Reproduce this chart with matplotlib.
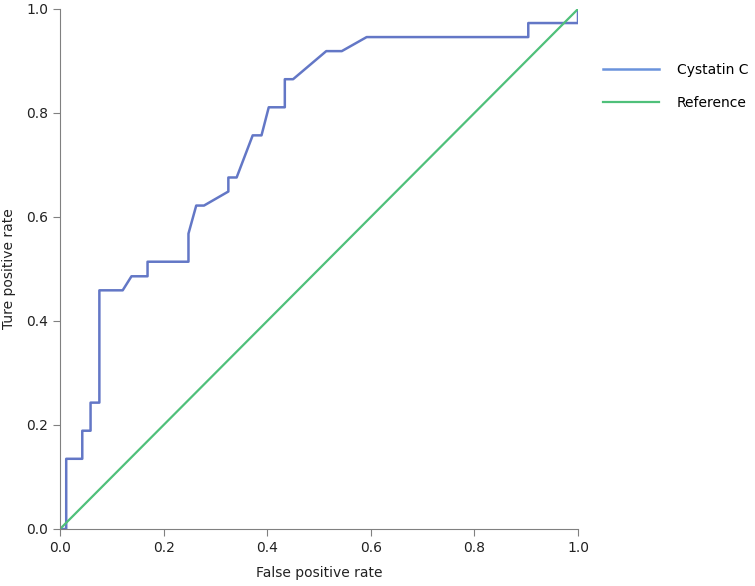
import matplotlib
matplotlib.use("Agg")
import matplotlib.pyplot as plt

# ROC points
fpr = [0.0, 0.012, 0.012, 0.043, 0.043, 0.059, 0.059, 0.076, 0.076, 0.121, 0.138, 0.169,
       0.169, 0.248, 0.248, 0.263, 0.278, 0.325, 0.325, 0.341, 0.372, 0.389, 0.403, 0.434,
       0.434, 0.450, 0.514, 0.544, 0.592, 0.904, 0.904, 1.0, 1.0]
tpr = [0.0, 0.0, 0.135, 0.135, 0.189, 0.189, 0.243, 0.243, 0.459, 0.459, 0.486, 0.486,
       0.514, 0.514, 0.568, 0.622, 0.622, 0.649, 0.676, 0.676, 0.757, 0.757, 0.811, 0.811,
       0.865, 0.865, 0.919, 0.919, 0.946, 0.946, 0.973, 0.973, 1.0]
ref_x = [0.0, 1.0]
ref_y = [0.0, 1.0]
ticks = [0.0, 0.2, 0.4, 0.6, 0.8, 1.0]

plt.rcParams['font.family'] = ['DejaVu Sans']
fig = plt.figure(figsize=(7.55, 5.86), dpi=100)
ax = fig.add_axes([60/755, 57/586, 518/755, 520/586])

ax.plot(fpr, tpr, color='#6377c6', lw=1.8, label='Cystatin C')
ax.plot(ref_x, ref_y, color='#4fc07a', lw=1.6, label='Reference')

ax.set_xlim(0, 1)
ax.set_ylim(0, 1)
ax.set_xticks(ticks)
ax.set_yticks(ticks)
ax.set_xticklabels([f"{t:.1f}" for t in ticks])
ax.set_yticklabels([f"{t:.1f}" for t in ticks])
for s in ['top', 'right']:
    ax.spines[s].set_visible(False)
for s in ['left', 'bottom']:
    ax.spines[s].set_color('#808080')
ax.tick_params(colors='#808080', labelcolor='#222222', labelsize=10, length=5)
ax.set_xlabel('False positive rate', fontsize=10, color='#222222', labelpad=8)
ax.set_ylabel('Ture positive rate', fontsize=10, color='#222222', labelpad=7)

leg = fig.legend(loc='upper left', bbox_to_anchor=(596/755, (586-56)/586), frameon=False,
                 fontsize=10, handlelength=4, handletextpad=1.3, labelspacing=1.35,
                 borderpad=0)
leg.get_lines()[0].set_color('#6a93dc')

fig.savefig('out.png', dpi=100)
